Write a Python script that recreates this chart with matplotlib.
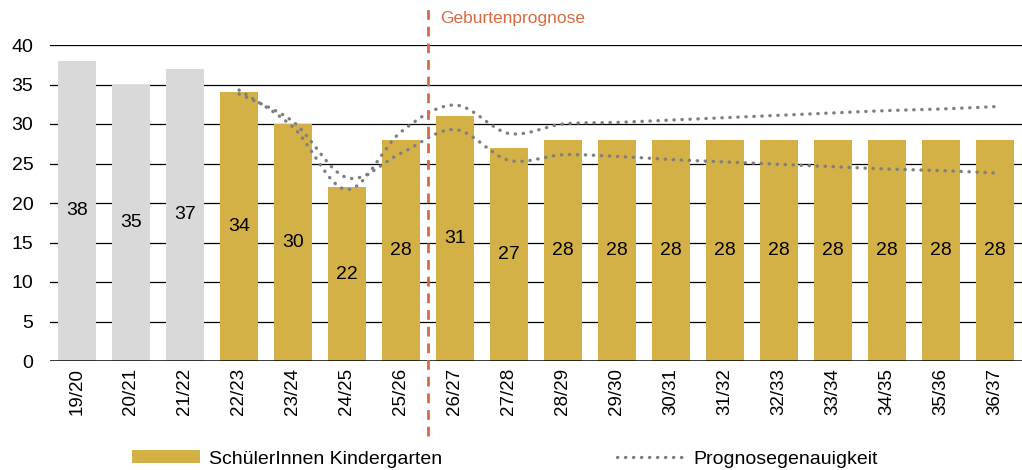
import matplotlib
matplotlib.use("Agg")
import matplotlib.pyplot as plt
from matplotlib.path import Path
from matplotlib.patches import PathPatch, Patch
from matplotlib.lines import Line2D
import numpy as np

plt.rcParams['font.family'] = ['Liberation Sans', 'DejaVu Sans']

categories = ["19/20", "20/21", "21/22", "22/23", "23/24", "24/25", "25/26", "26/27",
              "27/28", "28/29", "29/30", "30/31", "31/32", "32/33", "33/34", "34/35",
              "35/36", "36/37"]
values = [38, 35, 37, 34, 30, 22, 28, 31, 27, 28, 28, 28, 28, 28, 28, 28, 28, 28]
n_history = 3
# Prognosegenauigkeit (from 22/23 onwards)
upper = [34.3, 29.6, 21.7, 29.0, 32.4, 28.8, 30.0, 30.2, 30.5, 30.8, 31.1, 31.4, 31.7, 31.9, 32.2]
lower = [33.8, 30.3, 23.2, 26.3, 29.3, 25.4, 26.1, 25.9, 25.5, 25.2, 24.9, 24.6, 24.3, 24.1, 23.8]
band_start = 3
prognose_label = "Geburtenprognose"

GOLD = "#D4B146"
GREY = "#D9D9D9"
ORANGE = "#D86A43"
DOT = "#7F7F7F"
DOTSTYLE = (0, (0.1, 2.3))
DOTLW = 2.4

fig = plt.figure(figsize=(10.22, 4.70), dpi=100)
ax = fig.add_axes([50/1022, (470-361)/470, 972/1022, (361-45)/470])

x = np.arange(len(categories))
colors = [GREY if i < n_history else GOLD for i in range(len(categories))]
ax.bar(x, values, width=0.72, color=colors, zorder=2)
for xi, v in zip(x, values):
    ax.text(xi, v/2, str(v), ha='center', va='center', fontsize=14, color='black', zorder=4)

ax.set_xlim(-0.5, len(categories)-0.5)
ax.set_ylim(0, 40)
ax.set_yticks(range(0, 41, 5))
ax.set_xticks(x)
ax.set_xticklabels(categories, rotation=90, fontsize=13.5)
ax.tick_params(axis='y', labelsize=14, length=0, pad=12)
ax.tick_params(axis='x', length=0, pad=5)
for s in ax.spines.values():
    s.set_visible(False)
for yv in range(5, 41, 5):
    ax.axhline(yv, color='black', lw=0.9, zorder=1)
ax.axhline(0, color='black', lw=1.8, zorder=3)


def smooth_path(xs, ys, t=1/6):
    pts = np.column_stack([xs, ys])
    verts = [pts[0]]
    codes = [Path.MOVETO]
    m = len(pts)
    for i in range(m-1):
        p0 = pts[i-1] if i > 0 else pts[i]
        p1 = pts[i]
        p2 = pts[i+1]
        p3 = pts[i+2] if i+2 < m else pts[i+1]
        c1 = p1 + (p2 - p0) * t
        c2 = p2 - (p3 - p1) * t
        verts += [c1, c2, p2]
        codes += [Path.CURVE4]*3
    return Path(verts, codes)

bx = x[band_start:]
for series in (upper, lower):
    pp = PathPatch(smooth_path(bx, series), facecolor='none', edgecolor=DOT,
                   lw=DOTLW, linestyle=DOTSTYLE, capstyle='round', zorder=5)
    ax.add_patch(pp)

ax.plot([6.5, 6.5], [-9.5, 44.8], color=ORANGE, lw=2.0, linestyle=(0, (3.5, 2.5)),
        clip_on=False, zorder=6)
ax.text(6.73, 43.3, prognose_label, color=ORANGE, fontsize=12.5, va='center', ha='left')

handles = [Patch(facecolor=GOLD, edgecolor='none'),
           Line2D([0], [0], color=DOT, lw=DOTLW, linestyle=DOTSTYLE, dash_capstyle='round')]
fig.legend(handles, ["SchülerInnen Kindergarten", "Prognosegenauigkeit"],
           loc='center', bbox_to_anchor=(505/1022, 1-459/470), ncol=2, frameon=False,
           fontsize=14, columnspacing=9.0, handlelength=3.5, handleheight=0.6, handletextpad=0.45)

fig.savefig("out.png", dpi=100)
